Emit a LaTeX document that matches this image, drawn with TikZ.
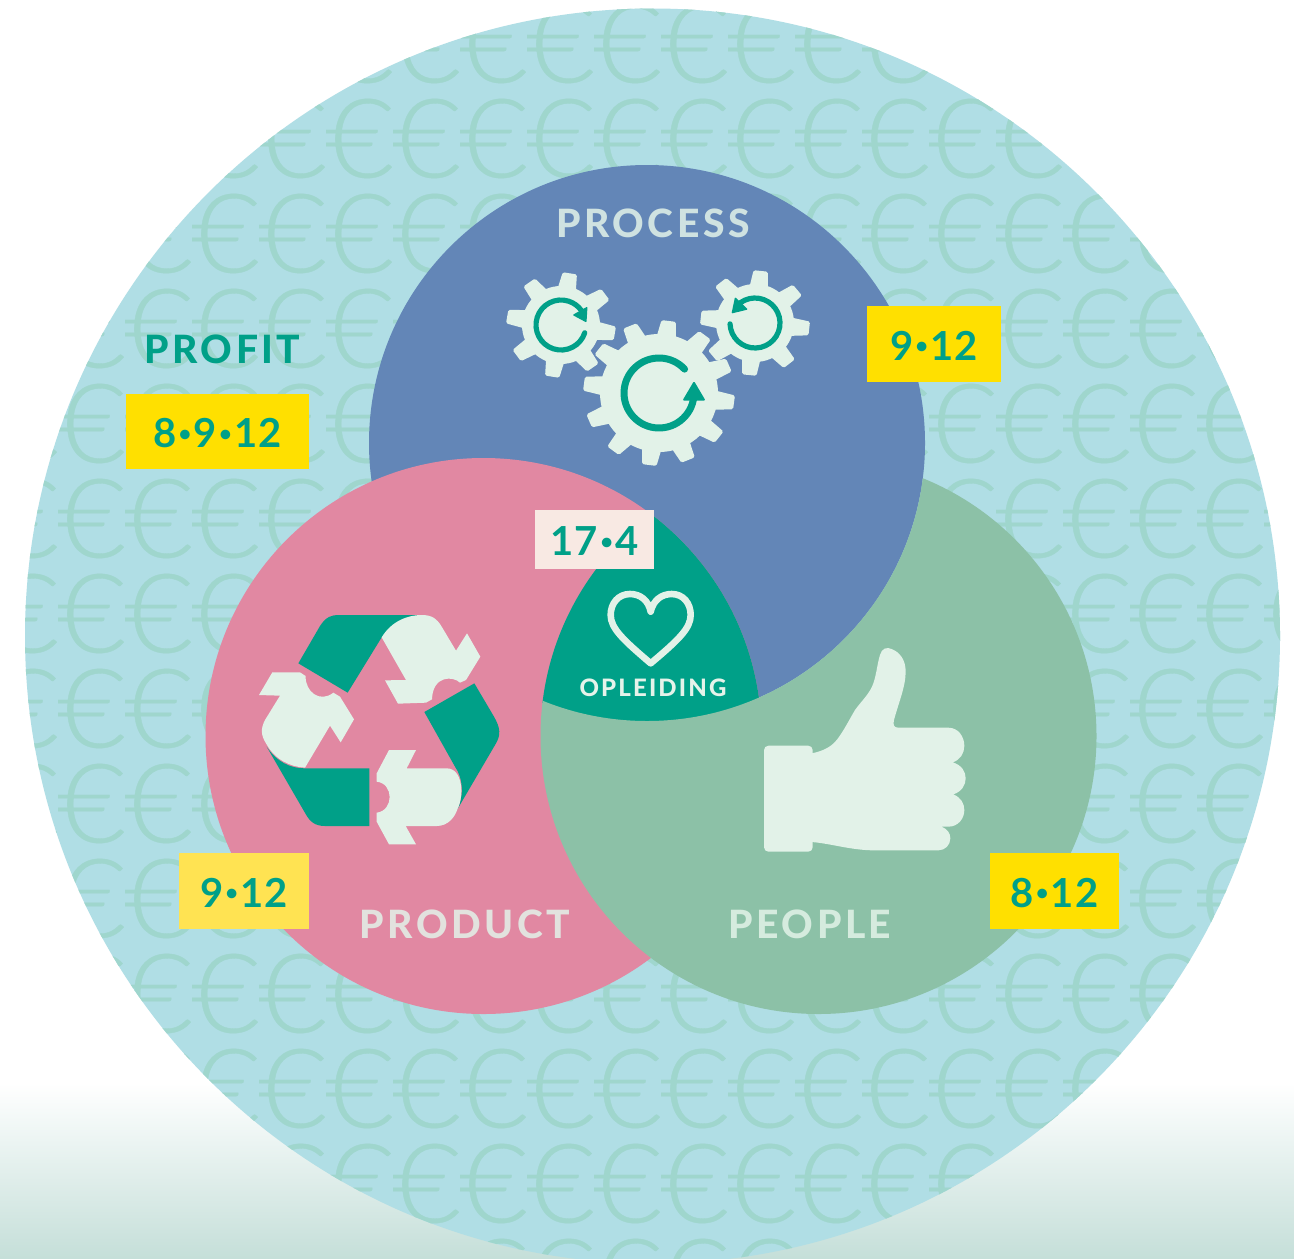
\documentclass[tikz,border=0pt]{standalone}
\usepackage{fontspec}
\setmainfont{Lato}
\newfontfamily\labelfont[LetterSpace=9]{Lato Heavy}
\newfontfamily\numfont[LetterSpace=3]{Lato Bold}
\newfontfamily\eurofont[FakeStretch=1.08,FakeBold=0.3]{Lato Light}
\definecolor{skyb}{HTML}{B0DEE5}
\definecolor{eurc}{HTML}{9FD6CD}
\definecolor{procb}{HTML}{6386B7}
\definecolor{prodp}{HTML}{E188A2}
\definecolor{peopg}{HTML}{8CC1A7}
\definecolor{tealc}{HTML}{00A088}
\definecolor{palec}{HTML}{E2F2E8}
\definecolor{yelc}{HTML}{FFE000}
\definecolor{yeld}{HTML}{FFE352}
\definecolor{creamc}{HTML}{F8E9E3}
\definecolor{gradc}{HTML}{C5DFD9}
\newcommand{\smalldot}{\raisebox{3.4pt}[0pt][0pt]{\kern1.1pt\fontsize{11}{12}\selectfont •\kern1.1pt}}
\newcommand{\tagtext}[1]{\raisebox{-1pt}[\height][\depth]{#1}}
\tikzset{
  tag/.style={fill=#1,inner sep=0pt,text=tealc,font=\numfont\fontsize{20}{24}\selectfont,anchor=center},
  heading/.style={inner sep=0pt,anchor=center,font=\labelfont\fontsize{19.5}{24}\selectfont},
  eurosign/.style={inner sep=0pt,anchor=center,text=eurc,font=\eurofont\fontsize{55}{60}\selectfont},
  zoomed/.style={x=0.16667pt,y=-0.16667pt},
  ringline/.style={draw=tealc,line cap=round,fill=none}
}
% gear: cx cy tipR rootR tipHalf rootHalf step startAngle
\newcommand{\gearshape}[8]{%
  \fill[palec] (#1,#2) circle[radius=#4];
  \pgfmathsetmacro{\laststep}{360-#7}
  \foreach \k in {0,#7,...,\laststep}{
    \pgfmathsetmacro{\aa}{#8+\k}
    \fill[palec,rounded corners=0.8pt]
      ({#1+(#4-3)*cos(\aa-#6)},{#2+(#4-3)*sin(\aa-#6)}) --
      ({#1+#3*cos(\aa-#5)},{#2+0.96*#3*sin(\aa-#5)}) --
      ({#1+#3*cos(\aa+#5)},{#2+0.96*#3*sin(\aa+#5)}) --
      ({#1+(#4-3)*cos(\aa+#6)},{#2+(#4-3)*sin(\aa+#6)}) -- cycle;
  }
}
\begin{document}
\begin{tikzpicture}[x=0.5pt,y=-0.5pt]
\useasboundingbox (0,0) rectangle (1294,1258);
\fill[white] (0,0) rectangle (1294,1258);
\shade[top color=white,bottom color=gradc] (0,1083) rectangle (1294,1258);
% big circle with pattern
\fill[skyb] (652.5,636) circle[radius=627.5];
\begin{scope}
  \clip (652.5,636) circle[radius=627.5];
  \foreach \r in {-2,...,11}{
    \foreach \c in {-3,...,16}{
      \node[eurosign] (eu\r c\c) at ({225.5+67*\c},{233.5+95*\r}) {€};
    }
  }
\end{scope}
% venn: pink over blue, blue over green, green over pink, teal in the middle
\fill[procb] (647,443) circle[radius=278];
\fill[prodp] (483.5,736) circle[radius=278];
\begin{scope}
  \clip (647,443) circle[radius=280];
  \clip (483.5,736) circle[radius=278];
  \fill[tealc] (818.5,736) circle[radius=278];
\end{scope}
\begin{scope}
  \pgfseteorule
  \clip (-10,-10) rectangle (1304,1268) (647,443) circle[radius=278];
  \fill[peopg] (818.5,736) circle[radius=278];
\end{scope}
% gears
\gearshape{659}{393}{76}{59}{5.5}{10}{30}{-82.6}
\gearshape{561}{325}{55}{39}{7.5}{15}{45}{-80.7}
\gearshape{755}{323}{55}{39}{7.5}{15}{45}{-84}
\draw[ringline,line width=3.5pt] (659,393) ++(-43:35) arc[start angle=-43,end angle=-360,radius=35];
\fill[tealc,rounded corners=0.6pt] (694,381) -- (705.5,400.5) -- (682.5,400.5) -- cycle;
\draw[ringline,line width=2.6pt] (561,325) ++(18:25) arc[start angle=18,end angle=325,radius=25];
\fill[tealc,rounded corners=0.5pt] (587.5,306.5) -- (586.5,322.5) -- (572.5,315) -- cycle;
\draw[ringline,line width=2.6pt] (755,323) ++(178:25) arc[start angle=178,end angle=-135,radius=25];
\fill[tealc,rounded corners=0.5pt] (735,297) -- (731.5,313.5) -- (748,309.5) -- cycle;
% recycle
\begin{scope}[shift={(240,600)},zoomed]
  \fill[tealc] (175,190) -- (240,78) .. controls (258,50) and (275,45) .. (295,45) -- (545,45) -- (425,112) -- (323,278) -- cycle;
  \fill[palec] (425,112) .. controls (455,62) and (505,45) .. (545,45) .. controls (575,45) and (590,55) .. (605,80) -- (648,152) -- (681,100) -- (721,170) -- (678,240) -- (660,248) .. controls (640,228) and (578,225) .. (576,298) -- (558,308) -- (474,311) -- (435,241) -- (498,240) -- cycle;
  \fill[tealc] (703,250) -- (762,350) .. controls (782,385) and (782,405) .. (768,430) -- (652,628) .. controls (672,590) and (670,535) .. (645,500) -- (553,336) -- cycle;
  \fill[palec] (500,505) -- (528,450) -- (447,450) -- (410,520) -- (410,545) .. controls (462,550) and (462,632) .. (410,638) -- (410,665) -- (447,733) -- (528,733) -- (497,678) -- (590,678) .. controls (625,678) and (645,650) .. (652,628) .. controls (672,590) and (670,505) .. (620,505) -- cycle;
  \fill[tealc] (80,440) .. controls (110,485) and (150,505) .. (195,505) -- (388,505) -- (388,678) -- (255,678) .. controls (225,678) and (210,665) .. (197,642) -- cycle;
  \fill[palec] (57,285) -- (97,217) -- (180,217) -- (197,228) .. controls (195,275) and (240,310) .. (280,278) -- (300,290) -- (342,358) -- (302,427) -- (270,377) -- (195,503) .. controls (150,500) and (105,480) .. (78,430) .. controls (62,405) and (62,385) .. (75,360) -- (120,287) -- cycle;
\end{scope}
% thumb
\begin{scope}[shift={(740,630)},zoomed]
  \fill[palec,rounded corners=2.2pt] (72,347) rectangle (218,665);
  \fill[palec] (215,370) .. controls (255,362) and (275,348) .. (290,330) .. controls (310,305) and (330,265) .. (345,240) .. controls (365,212) and (390,190) .. (400,160) .. controls (410,130) and (412,100) .. (420,75) .. controls (425,55) and (440,50) .. (455,57) .. controls (480,67) and (497,90) .. (497,125) .. controls (497,170) and (475,220) .. (462,270) .. controls (458,285) and (462,293) .. (475,293) -- (625,293) .. controls (655,293) and (673,320) .. (673,348) .. controls (673,370) and (660,390) .. (638,397) .. controls (665,405) and (677,425) .. (677,445) .. controls (677,465) and (665,485) .. (640,493) .. controls (662,502) and (673,520) .. (673,540) .. controls (673,565) and (655,590) .. (625,590) -- (605,590) .. controls (622,597) and (631,610) .. (631,625) .. controls (631,645) and (615,661) .. (595,661) -- (400,661) .. controls (330,660) and (270,640) .. (215,636) -- cycle;
\end{scope}
% heart
\begin{scope}[shift={(520,500)},zoomed]
  \draw[palec,line width=3.3pt,line join=round,line cap=round] (392,335) .. controls (385,300) and (360,282) .. (330,282) .. controls (295,282) and (272,310) .. (272,345) .. controls (272,385) and (310,420) .. (392,490) .. controls (475,420) and (512,385) .. (512,345) .. controls (512,310) and (490,282) .. (455,282) .. controls (425,282) and (400,300) .. (392,335);
\end{scope}
\node[inner sep=0pt,text=palec!90!white,font=\labelfont\fontsize{12}{14}\selectfont] (opl) at (653,688) {OPLEIDING};
% headings
\node[heading,text=tealc] (profit) at (222.5,349.5) {PROFIT};
\node[heading,text=palec!85!procb] (process) at (653,223) {PROCESS};
\node[heading,text=palec!85!prodp] (product) at (465,924) {PRODUCT};
\node[heading,text=palec!85!peopg] (people) at (810,924) {PEOPLE};
% tags
\node[tag=yelc,minimum width=91.5pt,minimum height=37.5pt] (t1) at (217.5,431.5) {\tagtext{8\smalldot 9\smalldot 12}};
\node[tag=yelc,minimum width=67pt,minimum height=38pt] (t2) at (934,344) {\tagtext{9\smalldot 12}};
\node[tag=creamc,minimum width=59.5pt,minimum height=29.5pt] (t3) at (594.5,539.5) {\tagtext{17\smalldot 4}};
\node[tag=yeld,minimum width=65pt,minimum height=38pt] (t4) at (244,891) {\tagtext{9\smalldot 12}};
\node[tag=yelc,minimum width=64.5pt,minimum height=38pt] (t5) at (1054.5,891) {\tagtext{8\smalldot 12}};
\end{tikzpicture}
\end{document}
